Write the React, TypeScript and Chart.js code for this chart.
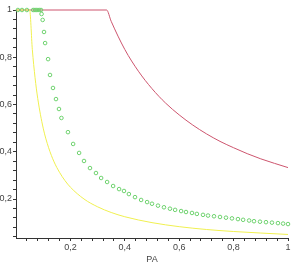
import React, { useEffect, useRef } from "react";
import { Chart, registerables } from "chart.js";

Chart.register(...registerables);

// Red curve (x, y)
const redX = [0, 0.333, 0.35, 0.4, 0.45, 0.5, 0.55, 0.6, 0.65, 0.7, 0.75, 0.8, 0.85, 0.9, 0.95, 1];
const redY = [1, 1, 0.952, 0.833, 0.741, 0.667, 0.606, 0.556, 0.513, 0.476, 0.444, 0.417, 0.392, 0.37, 0.351, 0.333];

// Yellow curve (x, y)
const yellowX = [0, 0.05, 0.06, 0.07, 0.08, 0.1, 0.12, 0.14, 0.16, 0.18, 0.2, 0.25, 0.3, 0.35, 0.4, 0.5, 0.6, 0.7, 0.8, 0.9, 1];
const yellowY = [1, 1, 0.833, 0.714, 0.625, 0.5, 0.417, 0.357, 0.313, 0.278, 0.25, 0.2, 0.167, 0.143, 0.125, 0.1, 0.083, 0.071, 0.0625, 0.056, 0.05];

// Green points (x, y)
const greenX = [
  0.007, 0.022, 0.04, 0.063, 0.07, 0.077, 0.085, 0.092, 0.094, 0.098, 0.103, 0.107, 0.118, 0.125, 0.136, 0.147,
  0.158, 0.167, 0.191, 0.21, 0.232, 0.25, 0.272, 0.294, 0.313, 0.335, 0.357, 0.379, 0.397, 0.415, 0.4375, 0.46,
  0.482, 0.5, 0.522, 0.544, 0.566, 0.585, 0.607, 0.625, 0.647, 0.665, 0.6875, 0.706, 0.728, 0.75, 0.772, 0.794,
  0.816, 0.835, 0.857, 0.875, 0.897, 0.919, 0.941, 0.963, 0.982, 1,
];
const greenY = [
  1, 1, 1, 1, 1, 1, 1, 1, 0.983, 0.958, 0.907, 0.86, 0.792, 0.725, 0.67, 0.623,
  0.581, 0.543, 0.483, 0.433, 0.395, 0.361, 0.331, 0.31, 0.289, 0.272, 0.255, 0.242, 0.234, 0.221, 0.208, 0.196,
  0.187, 0.18, 0.172, 0.165, 0.159, 0.154, 0.149, 0.145, 0.141, 0.137, 0.133, 0.13, 0.127, 0.124, 0.121, 0.118,
  0.115, 0.112, 0.109, 0.106, 0.104, 0.102, 0.1, 0.098, 0.096, 0.094,
];

const majorTicks = [0.2, 0.4, 0.6, 0.8, 1];
const minorStep = 0.04;
const xTitle = "PA";

const pts = (xs: number[], ys: number[]) => xs.map((x, i) => ({ x, y: ys[i] }));

const fmt = (v: number) => {
  for (const m of majorTicks) {
    if (Math.abs(v - m) < 1e-6) return m === 1 ? "1" : String(m).replace(".", ",");
  }
  return "";
};

const tickList = (from: number, to: number) => {
  const out: { value: number }[] = [];
  for (let k = 1; k * minorStep <= to + 1e-9; k++) {
    const v = Math.round(k * minorStep * 1000) / 1000;
    if (v >= from - 1e-9) out.push({ value: v });
  }
  return out;
};

export default function App() {
  const ref = useRef<HTMLCanvasElement | null>(null);
  useEffect(() => {
    if (!ref.current) return;
    const font = { family: "'Liberation Sans', Arial, sans-serif", size: 9 };
    const chart = new Chart(ref.current, {
      type: "scatter",
      data: {
        datasets: [
          {
            data: pts(greenX, greenY),
            showLine: false,
            pointStyle: "circle",
            pointRadius: 1.8,
            borderColor: "rgb(110,210,110)",
            backgroundColor: "rgba(0,0,0,0)",
            borderWidth: 1,
            clip: false,
            order: 0,
          } as any,
          {
            data: pts(yellowX, yellowY),
            showLine: true,
            pointRadius: 0,
            borderColor: "rgb(240,240,80)",
            borderWidth: 1,
            cubicInterpolationMode: "monotone",
            clip: false,
            order: 1,
          } as any,
          {
            data: pts(redX, redY),
            showLine: true,
            pointRadius: 0,
            borderColor: "rgb(205,85,110)",
            borderWidth: 1,
            cubicInterpolationMode: "monotone",
            clip: false,
            order: 2,
          } as any,
        ],
      },
      options: {
        animation: false,
        responsive: false,
        layout: { padding: { top: 10, right: 8, left: 0, bottom: 0 } },
        plugins: { legend: { display: false }, tooltip: { enabled: false } },
        scales: {
          x: {
            type: "linear",
            min: 0,
            max: 1,
            afterBuildTicks: (axis: any) => {
              axis.ticks = tickList(0.04, 1);
            },
            afterFit: (scale: any) => {
              scale.height = 25;
            },
            border: { display: true, color: "#333", width: 1 },
            grid: { drawOnChartArea: false, drawTicks: true, tickLength: 3, tickColor: "#333" },
            ticks: {
              autoSkip: false,
              maxRotation: 0,
              padding: 1,
              color: "#444",
              font,
              callback: (v: any) => fmt(Number(v)),
            },
            title: { display: true, text: xTitle, color: "#444", font, padding: { top: 0, bottom: -2 } },
          },
          y: {
            type: "linear",
            min: 0.035,
            max: 1,
            afterBuildTicks: (axis: any) => {
              axis.ticks = tickList(0.04, 1);
            },
            afterFit: (scale: any) => {
              scale.width = 16;
            },
            border: { display: true, color: "#333", width: 1 },
            grid: { drawOnChartArea: false, drawTicks: true, tickLength: 3, tickColor: "#333" },
            ticks: {
              autoSkip: false,
              padding: 1,
              color: "#444",
              font,
              callback: (v: any) => fmt(Number(v)),
            },
          },
        },
      },
    });
    return () => chart.destroy();
  }, []);
  return (
    <div style={{ position: "absolute", left: 0, top: 0, width: 296, height: 263, background: "#fff" }}>
      <canvas ref={ref} width={296} height={263} style={{ width: 296, height: 263 }} />
    </div>
  );
}
